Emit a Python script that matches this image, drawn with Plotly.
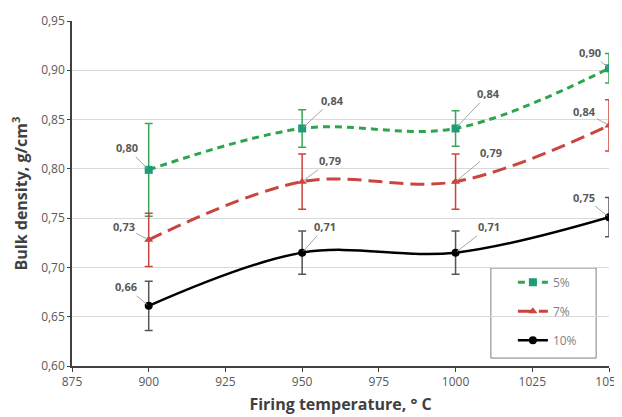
import plotly.graph_objects as go

temps = [900, 950, 1000, 1050]
names = ["5%", "7%", "10%"]
vals_5 = [0.799, 0.841, 0.841, 0.902]
err_5 = [0.047, 0.019, 0.018, 0.015]
vals_7 = [0.728, 0.787, 0.787, 0.844]
err_7 = [0.027, 0.028, 0.028, 0.026]
vals_10 = [0.661, 0.715, 0.715, 0.751]
err_10 = [0.025, 0.022, 0.022, 0.020]
labels_5 = ["0,80", "0,84", "0,84", "0,90"]
labels_7 = ["0,73", "0,79", "0,79", "0,84"]
labels_10 = ["0,66", "0,71", "0,71", "0,75"]

# label offsets (pixels) relative to point
off_5 = [(-22, -22), (30, -28), (33, -35), (-19, -16)]
off_7 = [(-25, -13), (28, -21), (35, -29), (-25, -14)]
off_10 = [(-23, -19), (23, -26), (33, -26), (-25, -20)]

series = [
    dict(name="5%", y=vals_5, e=err_5, lab=labels_5, off=off_5,
         lc="#2ea44f", mc="#1f9b78", ec="#3aa655", dash="7px,5px", sym="square", w=3),
    dict(name="7%", y=vals_7, e=err_7, lab=labels_7, off=off_7,
         lc="#c9453e", mc="#c9453e", ec="#c9453e", dash="14px,7px", sym="triangle-up", w=3),
    dict(name="10%", y=vals_10, e=err_10, lab=labels_10, off=off_10,
         lc="#000000", mc="#000000", ec="#555555", dash="solid", sym="circle", w=2.5),
]

fig = go.Figure()
annotations = []
for i, s in enumerate(series):
    fig.add_trace(go.Scatter(
        x=temps, y=s["y"], name=s["name"], mode="lines+markers",
        line=dict(color=s["lc"], width=s["w"], dash=s["dash"], shape="spline", smoothing=1.0),
        marker=dict(symbol=s["sym"], size=8, color=s["mc"]),
        error_y=dict(type="data", array=s["e"], visible=True, color=s["ec"],
                     thickness=1.5, width=4),
        legendgroup=s["name"],
    ))
    for xv, yv, lab, (ax, ay) in zip(temps, s["y"], s["lab"], s["off"]):
        annotations.append(dict(
            x=xv, y=yv, text="<b>" + lab + "</b>", showarrow=True, arrowhead=0, arrowwidth=1,
            arrowcolor="#a6a6a6", ax=ax, ay=ay, standoff=2,
            font=dict(family="Open Sans", size=11, color="#595959"),
        ))

# the page body adds an 8px offset, so the figure is sized to fit the window
fig.update_layout(
    width=614, height=409,
    margin=dict(l=64, r=13, t=13, b=51),
    paper_bgcolor="white", plot_bgcolor="white",
    separators=",.",
    font=dict(family="Open Sans", size=12, color="#595959"),
    showlegend=True,
    legend=dict(x=0.821, y=0.285, xanchor="left", yanchor="top",
                borderwidth=0, bgcolor="rgba(0,0,0,0)",
                tracegroupgap=10, font=dict(size=12, color="#7f7f7f")),
    annotations=annotations,
    shapes=[dict(type="rect", xref="paper", yref="paper",
                 x0=0.780, x1=0.976, y0=0.023, y1=0.284,
                 line=dict(color="#7f7f7f", width=1), fillcolor="white", layer="below")],
)
fig.update_xaxes(
    range=[875, 1050], dtick=25, tick0=875, tickformat="d", automargin=False,
    ticklabeloverflow="allow",
    showgrid=False, showline=True, linecolor="#404040", linewidth=1.5,
    ticks="outside", ticklen=4, tickcolor="#404040",
    tickfont=dict(size=12, color="#595959"),
    title=dict(text="<b>Firing temperature, ° C</b>", font=dict(size=16, color="#404040"), standoff=10),
    zeroline=False,
)
fig.update_yaxes(
    range=[0.60, 0.95], dtick=0.05, tick0=0.60, tickformat=".2f", automargin=False,
    showgrid=True, gridcolor="#d9d9d9", gridwidth=1,
    showline=True, linecolor="#404040", linewidth=1.5,
    ticks="outside", ticklen=3, tickcolor="#404040",
    tickfont=dict(size=12, color="#595959"),
    title=dict(text="<b>Bulk density, g/cm<sup>3</sup></b>", font=dict(size=16, color="#404040"), standoff=10),
    zeroline=False,
)
fig.write_html("out.html")
